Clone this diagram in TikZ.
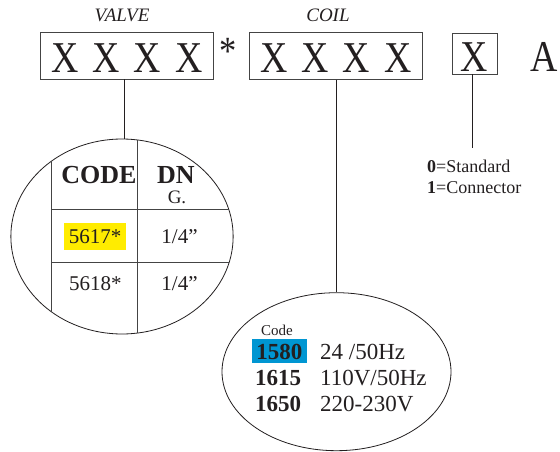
\documentclass[tikz,border=0pt]{standalone}
\usepackage{fontspec}
\setmainfont{Liberation Serif}
\newfontfamily\xfont[FakeStretch=0.86]{Liberation Serif}
\usetikzlibrary{shapes.geometric}
\definecolor{ink}{HTML}{231F20}
\definecolor{rule}{HTML}{444444}
\definecolor{hiyellow}{RGB}{255,236,0}
\definecolor{hiblue}{RGB}{0,150,210}
\newcommand{\fsz}[1]{\fontsize{#1}{#1}\selectfont}
\begin{document}
\begin{tikzpicture}[x=1pt,y=-1pt,
  every node/.style={text=ink, inner sep=0pt},
  codebox/.style={draw=rule, line width=0.8pt, minimum width=172.6pt, minimum height=47pt,
    text height=34pt, text depth=0pt, font=\xfont\fsz{44}},
  smallbox/.style={draw=rule, line width=0.8pt, minimum width=45pt, minimum height=41pt,
    text height=37pt, text depth=0pt, font=\xfont\fsz{44}},
  lbl/.style={anchor=base, font=\itshape\fsz{19}},
  oval/.style={ellipse, draw=ink, line width=0.8pt},
  conn/.style={draw=ink, line width=0.8pt},
  tab/.style={draw=rule, line width=0.8pt},
  cell/.style={anchor=base, font=\fsz{21}},
  coil/.style={anchor=base west, font=\fsz{23}}]
\path[use as bounding box, fill=white] (0,0) rectangle (560,452);

% header
\node[lbl] (lvalve) at (122,22) {VALVE};
\node[lbl] (lcoil) at (328,22) {COIL};
\node[codebox] (box1) at (127,55.5) {X\hspace{14pt}X\hspace{14pt}X\hspace{14pt}X};
\node[anchor=base, font=\xfont\fsz{40}] (star) at (228.5,65) {*};
\node[codebox] (box2) at (336,56) {X\hspace{14pt}X\hspace{14pt}X\hspace{14pt}X};
\node[smallbox] (box3) at (474.5,53.5) {X};
\node[anchor=base west, font=\xfont\fsz{44}] (la) at (530,72) {A};

% valve ellipse
\node[oval, minimum width=222.3pt, minimum height=195pt] (e1) at (122,236.5) {};
\begin{scope}
\clip (e1.center) ellipse [x radius=111.2pt, y radius=97.5pt];
\draw[tab] (51.7,120) -- (51.7,350);
\draw[tab] (137.7,120) -- (137.7,350);
\draw[tab] (51.7,209) -- (240,209);
\draw[tab] (51.7,262.7) -- (240,262.7);
\end{scope}
\node[anchor=base, font=\bfseries\fsz{26}] (hcode) at (99,183) {CODE};
\node[anchor=base, font=\bfseries\fsz{26}] (hdn) at (176,183) {DN};
\node[anchor=base, font=\fsz{19}] (hg) at (177,203) {G.};
\node[cell, fill=hiyellow, minimum width=62pt, text height=20.3pt, text depth=7pt] (c1) at (95,243) {5617*};
\node[cell] (d1) at (179.5,243) {1/4”};
\node[cell] (c2) at (95.3,290) {5618*};
\node[cell] (d2) at (179.5,290) {1/4”};

% coil ellipse
\node[oval, minimum width=229pt, minimum height=158pt] (e2) at (336.5,371.7) {};
\node[anchor=base, font=\fsz{15}] (hc) at (277,335) {Code};
\node[anchor=base west, fill=hiblue, minimum width=55pt, text height=20.3pt, text depth=4pt, font=\bfseries\fsz{23}] (k1) at (251.7,359.3) {1580};
\node[coil, font=\bfseries\fsz{23}] (k2) at (255,385.5) {1615};
\node[coil, font=\bfseries\fsz{23}] (k3) at (255,411.5) {1650};
\node[coil] (v1) at (320,359.3) {24 /50Hz};
\node[coil] (v2) at (320,385.5) {110V/50Hz};
\node[coil] (v3) at (320,411.5) {220-230V};

% connector legend
\coordinate (lend) at (472,148);
\node[anchor=base west, font=\fsz{18}] (o0) at (427,172) {\textbf{0}=Standard};
\node[anchor=base west, font=\fsz{18}] (o1) at (427,193) {\textbf{1}=Connector};

% connectors
\draw[conn] ([xshift=-3pt]box1.south) -- ([xshift=-3pt]box1.south |- e1.north);
\draw[conn] (box2.south) -- (box2.south |- e2.north);
\draw[conn] (box3.south -| lend) -- (lend);
\end{tikzpicture}
\end{document}
